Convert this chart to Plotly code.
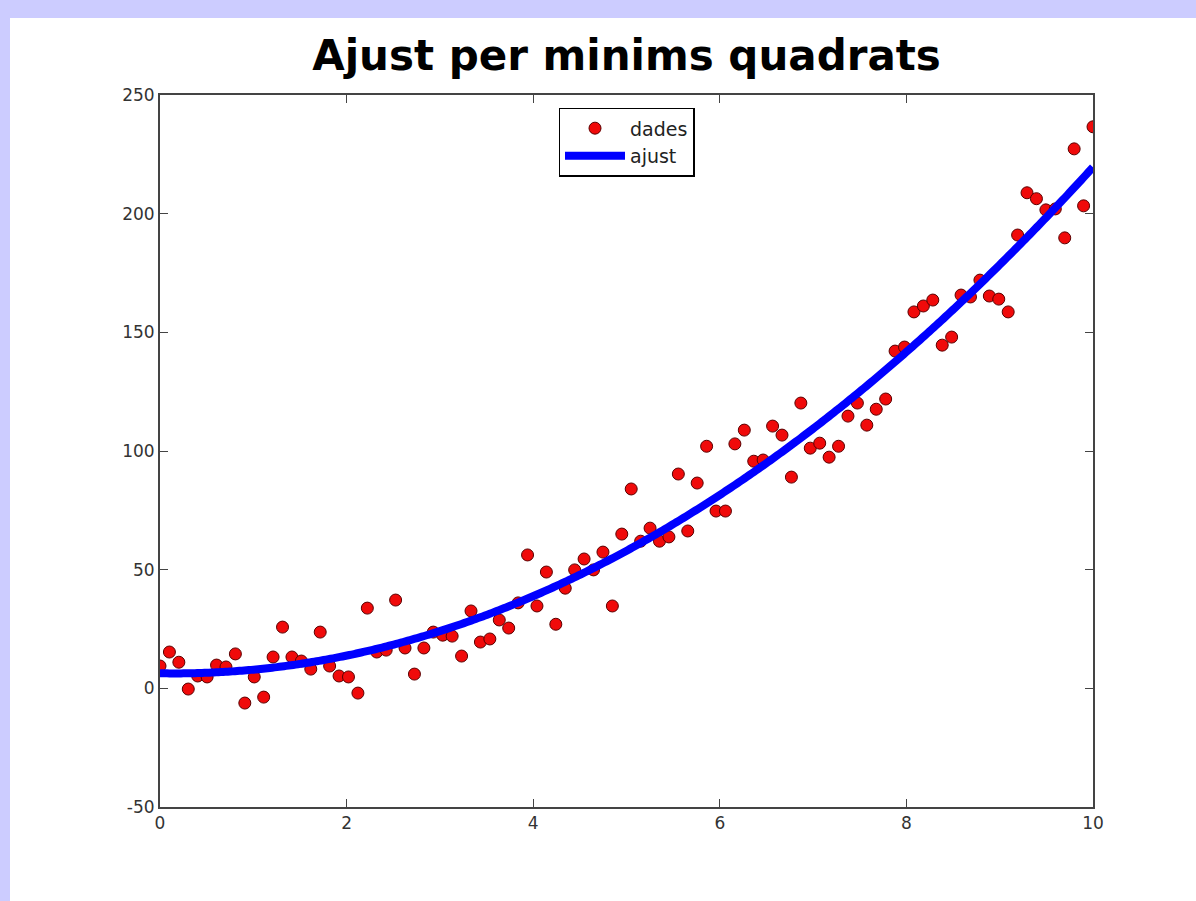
import numpy as np
import plotly.graph_objects as go

# Data (x = 100 evenly spaced points from 0 to 10)
x_start, x_end, n_points = 0, 10, 100
dades_y = [
    9.4, 15.3, 11.0, -0.3, 5.2, 4.8, 9.8, 9.0, 14.5, -6.2,
    4.8, -3.7, 13.2, 25.8, 13.2, 11.5, 8.1, 23.7, 9.4, 5.2,
    4.8, -2.0, 33.8, 15.3, 16.1, 37.2, 17.0, 6.0, 17.0, 23.7,
    22.4, 22.0, 13.6, 32.6, 19.5, 20.8, 28.8, 25.4, 36.0, 56.2,
    34.7, 49.0, 27.0, 42.2, 49.9, 54.5, 49.9, 57.4, 34.7, 65.0,
    84.0, 62.0, 67.5, 62.0, 63.8, 90.3, 66.3, 86.5, 102.0, 74.7,
    74.7, 103.0, 108.8, 95.7, 96.2, 110.5, 106.7, 89.0, 120.2, 101.2,
    103.3, 97.4, 102.0, 114.7, 120.2, 110.9, 117.6, 121.9, 142.1, 143.8,
    158.6, 161.1, 163.6, 144.6, 148.0, 165.7, 164.9, 172.0, 165.3, 164.0,
    158.6, 191.0, 208.8, 206.3, 201.6, 202.0, 189.8, 227.3, 203.3, 236.6,
]
x_ticks = [0, 2, 4, 6, 8, 10]
x_tick_labels = ["0", "2", "4", "6", "8", "10"]
y_ticks = [-50, 0, 50, 100, 150, 200, 250]
y_tick_labels = ["-50", "0", "50", "100", "150", "200", "250"]
title_text = "Ajust per minims quadrats"
series_names = ["dades", "ajust"]

dades_x = np.linspace(x_start, x_end, n_points)
# Least-squares quadratic fit computed from the data
coef = np.polyfit(dades_x, dades_y, 2)
fit_x = np.linspace(x_start, x_end, 400)
fit_y = np.polyval(coef, fit_x)

fig = go.Figure()
fig.add_trace(go.Scatter(
    x=dades_x, y=dades_y, mode="markers", name=series_names[0],
    marker=dict(color="#f00a0a", size=12, line=dict(color="#5a0000", width=1)),
))
fig.add_trace(go.Scatter(
    x=fit_x, y=fit_y, mode="lines", name=series_names[1],
    line=dict(color="#0000ff", width=8, simplify=False),
))

axis_common = dict(
    showgrid=False, zeroline=False, showline=True, linecolor="#444444",
    linewidth=2, mirror="ticks", ticks="inside", ticklen=8, tickwidth=1,
    tickcolor="#444444",
    tickfont=dict(family="DejaVu Sans", size=17, color="#333333"),
)

fig.update_layout(
    width=1196, height=901,
    paper_bgcolor="#ccccff", plot_bgcolor="white",
    margin=dict(l=160, r=103, t=95, b=94),
    title=dict(text=title_text, x=(160 + 1093) / 2 / 1196, xanchor="center",
               y=1 - 55 / 901, yanchor="middle", yref="container",
               font=dict(family="DejaVu Sans", size=42, color="black", weight="bold")),
    xaxis=dict(range=[x_start, x_end], tickvals=x_ticks, ticktext=x_tick_labels,
               **axis_common),
    yaxis=dict(range=[y_ticks[0], y_ticks[-1]], tickvals=y_ticks,
               ticktext=y_tick_labels, **axis_common),
    legend=dict(x=0.5, xanchor="center", y=0.982, yanchor="top",
                bgcolor="white", bordercolor="black", borderwidth=1.5,
                font=dict(family="DejaVu Sans", size=19, color="#222222"),
                itemwidth=60, tracegroupgap=0),
    showlegend=True,
    shapes=[dict(type="rect", xref="paper", yref="paper",
                 x0=-150 / 933, x1=1.2, y0=-0.2, y1=(807 - 18) / 712,
                 fillcolor="white", line=dict(width=0), layer="below")],
)

fig.write_html(
    "out.html",
    config={"displayModeBar": False},
    post_script="document.body.style.margin='0';document.body.style.background='#ccccff';",
)
